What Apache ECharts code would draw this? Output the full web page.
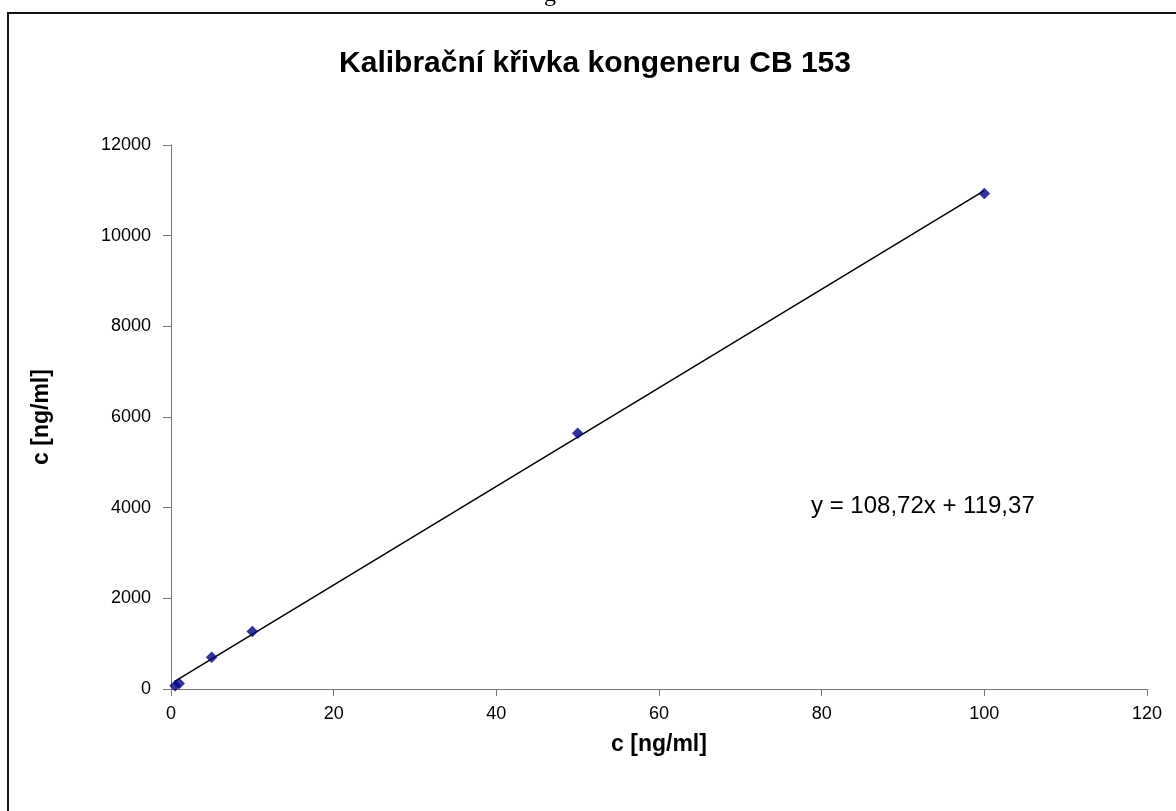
<!DOCTYPE html>
<html>
<head>
<meta charset="utf-8">
<script src="https://cdn.jsdelivr.net/npm/echarts@6/dist/echarts.min.js"></script>
<style>
html,body{margin:0;padding:0;background:#fff;}
#chart{width:1176px;height:811px;}
</style>
</head>
<body>
<div id="chart"></div>
<script>
const xValues = [0.5, 1, 5, 10, 50, 100];
const yValues = [70, 120, 700, 1270, 5640, 10930];
const slope = 108.72;
const intercept = 119.37;
const xTicks = [0, 20, 40, 60, 80, 100, 120];
const yTicks = [0, 2000, 4000, 6000, 8000, 10000, 12000];
const titleText = 'Kalibrační křivka kongeneru CB 153';
const axisName = 'c [ng/ml]';
const equationText = 'y = 108,72x + 119,37';

const points = xValues.map((x, i) => [x, yValues[i]]);
const xMin = Math.min(...xValues), xMax = Math.max(...xValues);
const trend = [[xMin, slope * xMin + intercept], [xMax, slope * xMax + intercept]];

const font = 'Liberation Sans, Arial, sans-serif';
const chart = echarts.init(document.getElementById('chart'));
chart.setOption({
  animation: false,
  backgroundColor: '#fff',
  title: {
    text: titleText,
    left: 590, top: 44, textAlign: 'center',
    textStyle: {fontFamily: font, fontSize: 30, fontWeight: 'bold', color: '#000'}
  },
  grid: {left: 171, top: 145, right: 29, bottom: 122, containLabel: false, outerBoundsMode: 'none'},
  xAxis: {
    type: 'value', min: xTicks[0], max: xTicks[xTicks.length - 1], interval: 20,
    name: axisName, nameLocation: 'middle', nameGap: 44,
    nameTextStyle: {fontFamily: font, fontSize: 23, fontWeight: 'bold', color: '#000'},
    axisLine: {show: true, lineStyle: {color: '#777', width: 1}},
    axisTick: {show: true, inside: false, length: 7, lineStyle: {color: '#777'}},
    axisLabel: {fontFamily: font, fontSize: 18, color: '#000', margin: 16},
    splitLine: {show: false}
  },
  yAxis: {
    type: 'value', min: yTicks[0], max: yTicks[yTicks.length - 1], interval: 2000,
    name: axisName, nameLocation: 'middle', nameGap: 118, nameRotate: 90,
    nameTextStyle: {fontFamily: font, fontSize: 23, fontWeight: 'bold', color: '#000'},
    axisLine: {show: true, lineStyle: {color: '#777', width: 1}},
    axisTick: {show: true, inside: false, length: 8, lineStyle: {color: '#777'}},
    axisLabel: {fontFamily: font, fontSize: 18, color: '#000', margin: 20,
      formatter: v => String(v)},
    splitLine: {show: false}
  },
  series: [
    {
      type: 'line', data: trend, symbol: 'none', silent: true,
      lineStyle: {color: '#000', width: 1.5}, z: 2
    },
    {
      type: 'scatter', data: points, symbol: 'diamond', symbolSize: 11,
      itemStyle: {color: '#000080', borderColor: '#000080', borderWidth: 0.5}, z: 3
    }
  ],
  graphic: [
    {type: 'rect', shape: {x: 8, y: 13, width: 1200, height: 850},
     style: {fill: 'none', stroke: '#111', lineWidth: 2}, silent: true, z: 0},
    {type: 'text', left: 811, top: 494,
     style: {text: equationText, fontFamily: font, fontSize: 24, fill: '#000'}},
    {type: 'text', left: 544, top: -17,
     style: {text: 'g', fontFamily: 'Liberation Serif, serif', fontSize: 24, fill: '#000'}}
  ]
});
</script>
</body>
</html>
